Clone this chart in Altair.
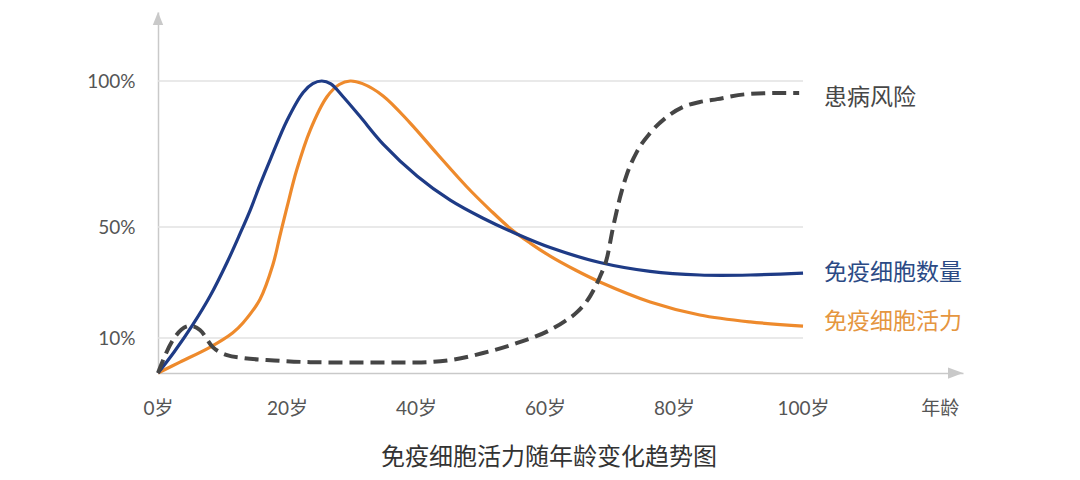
import altair as alt
import pandas as pd

# ---- data (age in years, value in %) ----
count_age = [0, 2.5, 5.4, 8.1, 10.7, 12.7, 14.3, 15.8, 17.5, 20, 22.5, 24, 25.4, 26.8,
             28.7, 31.3, 34.9, 40.2, 45.3, 50.4, 55.7, 60.8, 68.5, 76.3, 84, 91.8, 100]
count_val = [0, 6.0, 14.8, 25.2, 37.2, 47.5, 55.8, 64.4, 73.6, 86.5, 96.1, 99.1, 100, 99,
             94.6, 87.9, 78.4, 67.4, 59.2, 53, 47.4, 42.6, 37.2, 34, 32.7, 32.7, 33.4]

vital_age = [0, 3.4, 8.1, 11.6, 13.2, 15.8, 17.8, 18.9, 20, 21.5, 23.6, 26.2, 28.1, 29.8,
             31.7, 34.9, 39.1, 43.3, 47.9, 51.5, 54.7, 57.7, 60.8, 64.7, 68.5, 76.3, 84,
             91.8, 100]
vital_val = [0, 3.1, 7.4, 11.9, 15.5, 23.9, 36.3, 46.8, 56.8, 69.5, 83.2, 94.6, 98.8, 100,
             99.1, 94.9, 85.6, 75, 63.7, 55.8, 49.3, 44.2, 39.5, 34.5, 30.2, 23, 18.3,
             15.8, 14.3]

risk_age = [0, 2.3, 5, 6.5, 8.5, 10.7, 13.2, 18, 23.6, 30, 40, 45.3, 50.4, 55.7, 60.8,
            63.1, 65, 67, 68.5, 69.6, 70.5, 71.6, 72.7, 74.3, 76.3, 78.9, 81.4, 84, 86.7,
            91.3, 96.4, 99.4]
risk_val = [0, 9.4, 14.4, 12.9, 7.4, 5.1, 4.3, 3.6, 3.1, 3.0, 3.0, 3.7, 5.7, 8.6, 12.9,
            16.1, 19.4, 25.1, 32, 38.8, 49.3, 59.9, 68.1, 76, 82.2, 87.7, 91.1, 92.8, 93.8,
            95.5, 95.9, 95.9]

series_names = ["患病风险", "免疫细胞数量", "免疫细胞活力"]
grid_values = [10, 50, 100]
x_tick_values = [0, 20, 40, 60, 80, 100]
x_end_label_value = 121.2          # where the "年龄" axis caption sits
x_end_label = "年龄"
title_text = "免疫细胞活力随年龄变化趋势图"

# ---- styling ----
FONT = 'Lato, "Noto Sans CJK SC", sans-serif'
CJK = '"Noto Sans CJK SC", sans-serif'
BLUE = "#1e3b86"
ORANGE = "#ee8a2c"
GREY = "#454545"
AXIS_GREY = "#c9c9c9"
W, H = 805, 361

x_enc = alt.X(
    "age:Q",
    scale=alt.Scale(domain=[0, 124.8], nice=False, zero=False),
    axis=alt.Axis(
        title=None, values=x_tick_values + [x_end_label_value],
        labelExpr=f"datum.value > 110 ? '{x_end_label}' : datum.value + '岁'",
        grid=False, ticks=False, tickSize=0, labelPadding=35, labelBaseline="middle",
        labelFlush=False, labelFontSize=19, labelColor="#555555", labelFont=FONT,
        domainColor=AXIS_GREY, domainWidth=1.5, labelOverlap=False,
    ),
)
y_enc = alt.Y(
    "value:Q",
    scale=alt.Scale(domain=[0, 10, 50, 100, 123.6], range=[361, 326, 215, 69, 0],
                    nice=False, zero=False),
    axis=alt.Axis(
        title=None, values=grid_values, labelExpr="datum.value + '%'",
        grid=False, ticks=False, tickSize=0, labelPadding=23, labelBaseline="middle",
        labelFlush=False, labelFontSize=19, labelColor="#555555", labelFont=FONT,
        domainColor=AXIS_GREY, domainWidth=1.5, labelOverlap=False,
    ),
)

def frame(ages, vals):
    return pd.DataFrame({"age": ages, "value": vals})

df_count = frame(count_age, count_val)
df_vital = frame(vital_age, vital_val)
df_risk = frame(risk_age, risk_val)

grid_df = pd.DataFrame({"value": grid_values, "age": [0] * len(grid_values),
                        "age2": [x_tick_values[-1]] * len(grid_values)})
grid = alt.Chart(grid_df).mark_rule(color="#e2e2e2", strokeWidth=1.5).encode(
    x=x_enc, x2="age2:Q", y=y_enc)

vital_line = alt.Chart(df_vital).mark_line(
    color=ORANGE, strokeWidth=3.2, interpolate="catmull-rom").encode(x=x_enc, y=y_enc)
count_line = alt.Chart(df_count).mark_line(
    color=BLUE, strokeWidth=3.2, interpolate="catmull-rom").encode(x=x_enc, y=y_enc)
risk_line = alt.Chart(df_risk).mark_line(
    color=GREY, strokeWidth=4, strokeDash=[14, 7], interpolate="monotone").encode(x=x_enc, y=y_enc)

# series labels, at the end of each series
label_specs = [
    (series_names[0], df_risk, "#474747", 5),
    (series_names[1], df_count, "#2b4a85", 0),
    (series_names[2], df_vital, "#e5963f", -4),
]
labels = []
for name, df, col, dy in label_specs:
    last = df.tail(1).assign(age=x_tick_values[-1])
    labels.append(
        alt.Chart(last).mark_text(text=name, align="left", baseline="middle", dx=21, dy=dy,
                                  fontSize=23, font=CJK, color=col)
        .encode(x=x_enc, y=y_enc)
    )

one = pd.DataFrame({"k": [0]})
up_arrow = alt.Chart(one).mark_point(
    shape="M-0.8,1L0.8,1L0,-1Z", size=169, filled=True, color=AXIS_GREY, opacity=1,
    strokeWidth=0).encode(x=alt.value(0), y=alt.value(6.5))
right_arrow = alt.Chart(one).mark_point(
    shape="M-1,-0.75L-1,0.75L1,0Z", size=225, filled=True, color=AXIS_GREY, opacity=1,
    strokeWidth=0).encode(x=alt.value(W - 7.5), y=alt.value(H))

title = alt.Chart(one).mark_text(
    text=title_text, fontSize=24, font=CJK, color="#333333", align="center",
    baseline="middle").encode(x=alt.value(391), y=alt.value(446))

chart = alt.layer(
    grid, vital_line, count_line, risk_line, *labels, up_arrow, right_arrow, title
).properties(
    width=W, height=H, autosize="none",
    padding={"left": 150, "top": 4, "right": 109, "bottom": 99},
    background="white",
).configure_view(strokeWidth=0)

chart.save("out.html", embed_options={"renderer": "svg", "actions": False})
